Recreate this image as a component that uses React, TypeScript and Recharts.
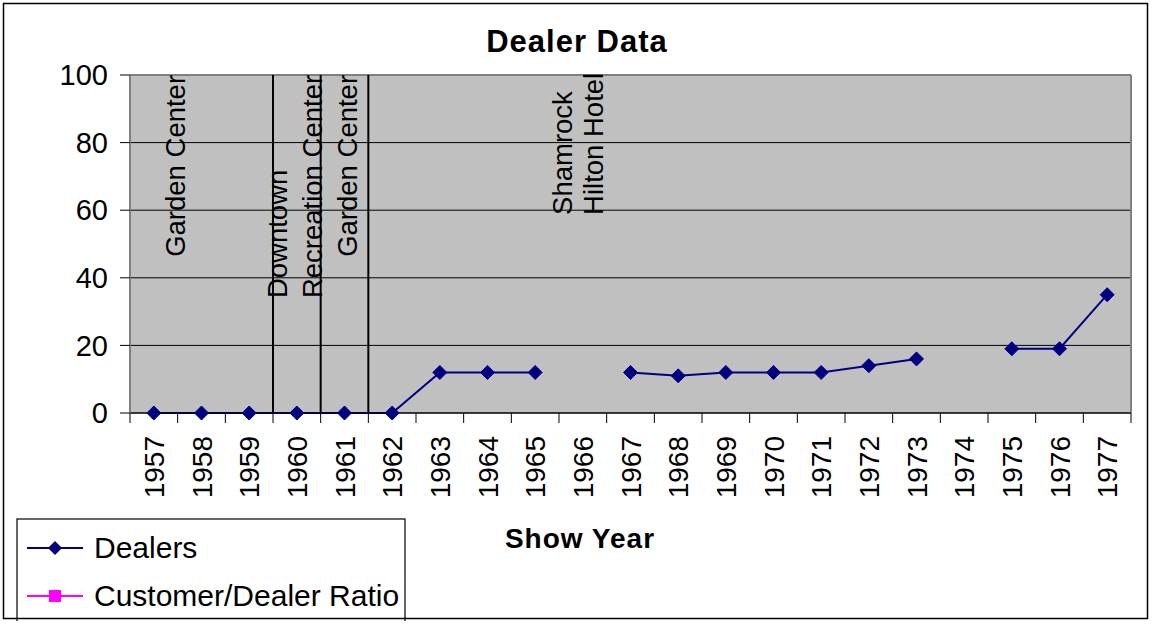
import React from 'react';
import {
  LineChart, Line, XAxis, YAxis, CartesianGrid, ReferenceLine, ReferenceDot, Legend,
} from 'recharts';

const FONT = "'Liberation Sans', Arial, Helvetica, sans-serif";

const years = [1957, 1958, 1959, 1960, 1961, 1962, 1963, 1964, 1965, 1966, 1967, 1968, 1969, 1970, 1971, 1972, 1973, 1974, 1975, 1976, 1977];
const dealers = [0, 0, 0, 0, 0, 0, 12, 12, 12, null, 12, 11, 12, 12, 12, 14, 16, null, 19, 19, 35];
const customerDealerRatio = [null, null, null, null, null, null, null, null, null, null, null, null, null, null, null, null, null, null, null, null, null];
const seriesOrder = ['Dealers', 'Customer/Dealer Ratio'];

const yTicks = [0, 20, 40, 60, 80, 100];
// category boundaries (tick marks) and centers (labels)
const boundaries = [1956.5, 1957.5, 1958.5, 1959.5, 1960.5, 1961.5, 1962.5, 1963.5, 1964.5, 1965.5, 1966.5, 1967.5, 1968.5, 1969.5, 1970.5, 1971.5, 1972.5, 1973.5, 1974.5, 1975.5, 1976.5, 1977.5];
const venueChanges = [1959.5, 1960.5, 1961.5];

// venue annotations: x = baseline position (in years), y = where text starts (value units)
const venueLabels = [
  { text: 'Garden Center', x: 1957.65, y: 46.2 },
  { text: 'Downtown', x: 1959.79, y: 34 },
  { text: 'Recreation Center', x: 1960.53, y: 34 },
  { text: 'Garden Center', x: 1961.26, y: 46.2 },
  { text: 'Shamrock', x: 1965.77, y: 58.6 },
  { text: 'Hilton Hotel', x: 1966.42, y: 58.6 },
];

const data = years.map((year, i) => ({ year, dealers: dealers[i], ratio: customerDealerRatio[i] }));
const xTicks = [...boundaries, ...years].sort((a, b) => a - b);

const XTick = (props: any) => {
  const { x, y, payload } = props;
  const v = payload.value;
  if (v % 1 !== 0) {
    return <line x1={x} x2={x} y1={y - 23} y2={y - 13} stroke="#000" strokeWidth={1} />;
  }
  return (
    <text x={x} y={y} transform={`rotate(-90 ${x} ${y})`} textAnchor="end" dy="0.36em"
      fontSize={28} fontFamily={FONT} fill="#000">{v}</text>
  );
};

const DiamondDot = (props: any) => {
  const { cx, cy, key } = props;
  if (cx == null || cy == null || isNaN(cy)) return <g key={key} />;
  const s = 7;
  return <path key={key} d={`M${cx},${cy - s}L${cx + s},${cy}L${cx},${cy + s}L${cx - s},${cy}Z`} fill="#000080" stroke="#000080" />;
};

const makeVenueLabel = (text: string) => (props: any) => {
  const vb = props.viewBox || {};
  const x = vb.x + (vb.width || 0) / 2;
  const y = vb.y + (vb.height || 0) / 2;
  return (
    <text x={x} y={y} transform={`rotate(-90 ${x} ${y})`} textAnchor="start"
      fontSize={27.5} fontFamily={FONT} fill="#000">{text}</text>
  );
};

const LegendBox = (props: any) => {
  const payload = [...(props.payload || [])].sort(
    (a: any, b: any) => seriesOrder.indexOf(a.value) - seriesOrder.indexOf(b.value),
  );
  return (
    <svg width={392} height={103} style={{ display: 'block' }}>
      <rect x={1} y={1} width={388} height={104} fill="#fff" stroke="#000" strokeWidth={1.2} />
      {payload.map((e: any, i: number) => {
        const cy = 30 + i * 48;
        const cx = 39;
        return (
          <g key={i}>
            <line x1={11} x2={67} y1={cy} y2={cy} stroke={e.color} strokeWidth={2} />
            {e.type === 'diamond' ? (
              <path d={`M${cx},${cy - 7}L${cx + 7},${cy}L${cx},${cy + 7}L${cx - 7},${cy}Z`} fill={e.color} />
            ) : (
              <rect x={cx - 6} y={cy - 6} width={12} height={12} fill={e.color} />
            )}
            <text x={78} y={cy + 10} fontSize={30} fontFamily={FONT} fill="#000">{e.value}</text>
          </g>
        );
      })}
    </svg>
  );
};

export default function App() {
  return (
    <div style={{ position: 'absolute', left: 0, top: 0, width: 1152, height: 625, background: '#fff' }}>
      <LineChart width={1152} height={625} data={data} margin={{ top: 75, right: 21, bottom: 112, left: 0 }}>
        <CartesianGrid vertical={false} stroke="#000" fill="#C0C0C0" fillOpacity={1} />
        <XAxis
          dataKey="year" type="number" domain={[1956.5, 1977.5]} ticks={xTicks} interval={0}
          tick={<XTick />} tickLine={false} tickSize={10} tickMargin={13} height={100}
          axisLine={{ stroke: '#000', strokeWidth: 1 }} allowDataOverflow
        />
        <YAxis
          type="number" domain={[0, 100]} ticks={yTicks} width={130} interval={0}
          tickSize={10} tickMargin={12}
          tick={{ fill: '#000', fontSize: 29, fontFamily: FONT }}
          tickLine={{ stroke: '#000' }}
          axisLine={{ stroke: '#808080', strokeWidth: 2 }}
        />
        <ReferenceLine y={100} stroke="#808080" strokeWidth={2} />
        <ReferenceLine x={1977.5} stroke="#808080" strokeWidth={2} />
        {venueChanges.map((v) => (
          <ReferenceLine key={v} x={v} stroke="#000" strokeWidth={2} />
        ))}
        {venueLabels.map((a, i) => (
          <ReferenceDot key={i} x={a.x} y={a.y} r={0} fill="none" stroke="none" label={makeVenueLabel(a.text)} />
        ))}
        <Line type="linear" dataKey="dealers" name="Dealers" stroke="#000080" strokeWidth={2}
          dot={DiamondDot} activeDot={false} legendType="diamond" isAnimationActive={false} />
        <Line type="linear" dataKey="ratio" name="Customer/Dealer Ratio" stroke="#FF00FF" strokeWidth={2}
          dot={false} activeDot={false} legendType="square" isAnimationActive={false} />
        <Legend layout="vertical" align="center" verticalAlign="middle" content={<LegendBox />}
          wrapperStyle={{ left: 16, top: 518, width: 392, height: 103 }} />
      </LineChart>
      <svg width={1152} height={625} style={{ position: 'absolute', left: 0, top: 0, pointerEvents: 'none' }}>
        <rect x={3.5} y={3.5} width={1144} height={615} fill="none" stroke="#000" strokeWidth={1.5} />
        <text x={577} y={52} textAnchor="middle" fontSize={31} fontWeight="bold" letterSpacing={1} fontFamily={FONT} fill="#000">Dealer Data</text>
        <text x={580} y={548} textAnchor="middle" fontSize={28} fontWeight="bold" letterSpacing={1} fontFamily={FONT} fill="#000">Show Year</text>
      </svg>
    </div>
  );
}
